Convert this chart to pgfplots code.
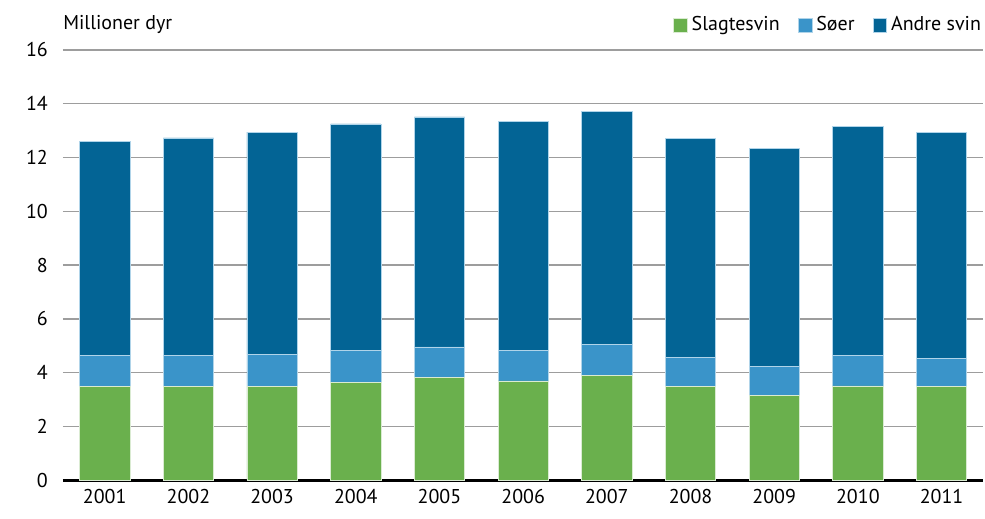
\documentclass[border=0pt]{standalone}
\usepackage{pgfplots}
\pgfplotsset{compat=1.18}
\usepackage{fontspec}
\setmainfont{PT Sans}
\definecolor{cgreen}{HTML}{6AB04D}
\definecolor{clight}{HTML}{3A94C9}
\definecolor{cdark}{HTML}{036495}
\definecolor{cgrid}{HTML}{9D9D9D}
\begin{document}
\fontsize{10}{12}\selectfont
\begin{tikzpicture}
\begin{axis}[
  name=ax,
  scale only axis,
  width=461pt, height=215.5pt,
  ybar stacked, bar width=0.6,
  xmin=-0.5, xmax=10.5, ymin=0, ymax=16,
  xtick={0,...,10},
  xticklabels={2001,2002,2003,2004,2005,2006,2007,2008,2009,2010,2011},
  ytick={0,2,...,16},
  /pgf/number format/assume math mode=true,
  tick style={draw=none},
  axis y line*=left,
  axis x line*=bottom,
  y axis line style={draw=none},
  x axis line style={line width=1.5pt, black, -},
  ymajorgrids, grid style={cgrid, line width=0.75pt},
  yticklabel style={xshift=-4pt},
  xticklabel style={yshift=-1pt},
  ticklabel style={font=\fontsize{10}{12}\selectfont},
  legend style={at={(rel axis cs:1,1)}, anchor=south east, yshift=6pt, xshift=1pt, draw=none,
    font=\fontsize{10}{12}\selectfont, column sep=0pt, inner sep=0pt,
    nodes={inner sep=2pt},
    /tikz/every even column/.append style={column sep=7pt}},
  legend columns=3,
  legend image code/.code={\fill[#1] (0pt,-3.5pt) rectangle (7pt,3.5pt);},
  clip=false,
]
\addplot[fill=cgreen, draw=white!75!cgreen, line width=0.3pt] coordinates {
(0,3.50) (1,3.48) (2,3.50) (3,3.65) (4,3.81) (5,3.69) (6,3.89) (7,3.49) (8,3.14) (9,3.51) (10,3.48)};
\addlegendentry{Slagtesvin}
\addplot[fill=clight, draw=white!60!clight, line width=0.3pt] coordinates {
(0,1.14) (1,1.16) (2,1.18) (3,1.18) (4,1.15) (5,1.14) (6,1.16) (7,1.09) (8,1.10) (9,1.13) (10,1.05)};
\addlegendentry{Søer}
\addplot[fill=cdark, draw=white!60!clight, line width=0.3pt] coordinates {
(0,7.95) (1,8.09) (2,8.26) (3,8.42) (4,8.55) (5,8.52) (6,8.65) (7,8.14) (8,8.11) (9,8.53) (10,8.39)};
\addlegendentry{Andre svin}
\node[anchor=south west, inner sep=0pt, font=\fontsize{10}{12}\selectfont] at ([yshift=8pt]rel axis cs:0,1) {Millioner dyr};
\end{axis}
\path (ax.south west) ++(-31.5pt,-19pt) rectangle ([yshift=25pt]ax.north east);
\end{tikzpicture}
\end{document}
